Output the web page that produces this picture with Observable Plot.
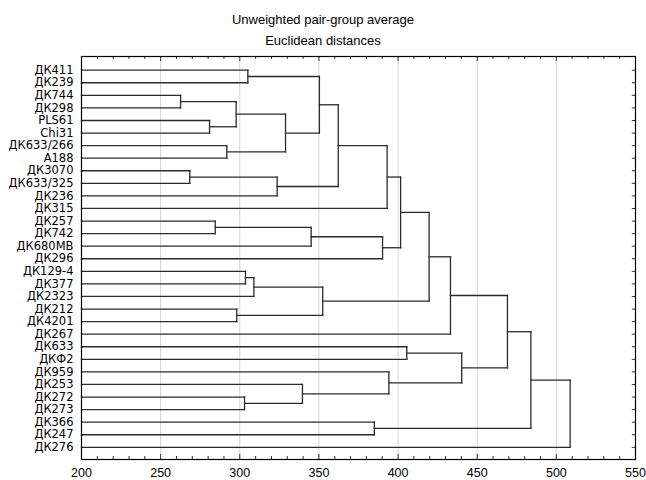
<!DOCTYPE html>
<html><head><meta charset="utf-8">
<script src="https://cdn.jsdelivr.net/npm/d3@7"></script>
<script src="https://cdn.jsdelivr.net/npm/@observablehq/plot@0.6"></script>
<style>
body{margin:0;background:#fff;}
#title{width:646px;height:50px;box-sizing:border-box;padding-top:8.5px;text-align:center;font-family:"Liberation Sans",Arial,sans-serif;font-size:13px;line-height:21px;color:#000;}
#chart svg{overflow:visible;}
</style></head><body>
<div id="title"><div>Unweighted pair-group average</div><div>Euclidean distances</div></div>
<div id="chart"></div>
<script>
const leaves = ["ДК411","ДК239","ДК744","ДК298","PLS61","Chi31","ДК633/266","A188","ДК3070","ДК633/325",
  "ДК236","ДК315","ДК257","ДК742","ДК680МВ","ДК296","ДК129-4","ДК377","ДК2323","ДК212",
  "ДК4201","ДК267","ДК633","ДКФ2","ДК959","ДК253","ДК272","ДК273","ДК366","ДК247","ДК276"];
// linkage rows: [childA, childB, linkage distance]; leaves are 0..30, row k creates node 31+k
const mergeA = [2,8,4,12,6,31,19,26,16,0,39,32,36,25,34,40,41,46,28,45,48,24,51,22,53,55,54,56,58,59];
const mergeB = [3,9,5,13,7,33,20,27,17,1,18,10,35,38,14,43,37,42,29,15,11,44,50,23,47,21,52,57,49,30];
const mergeH = [262.6,268.4,280.9,284.5,291.8,297.7,298.1,303.0,303.6,305.1,308.9,323.6,328.9,339.6,345.1,
  350.3,352.4,362.2,385.0,390.2,393.1,394.2,401.6,405.5,419.6,433.1,440.2,469.1,483.9,508.7];
const xTicks = [200,250,300,350,400,450,500,550];

const n = leaves.length;
const xMin = xTicks[0], xMax = xTicks[xTicks.length-1];
const nodeY = leaves.map((_, i) => i);
const nodeH = leaves.map(() => xMin);
const segs = [];
mergeH.forEach((h, k) => {
  const a = mergeA[k], b = mergeB[k];
  const ya = nodeY[a], yb = nodeY[b];
  segs.push({x1: nodeH[a], x2: h, y1: ya, y2: ya});
  segs.push({x1: nodeH[b], x2: h, y1: yb, y2: yb});
  segs.push({x1: h, x2: h, y1: ya, y2: yb});
  nodeY.push((ya + yb) / 2); nodeH.push(h);
});

const yDom = [-1.09, n - 1 + 0.97];
const minor = d3.range(xMin, xMax + 1, 10);
const tickLen = d => (d % 50 ? 0.24 : 0.4);

const chart = Plot.plot({
  width: 646, height: 430,
  marginLeft: 81, marginRight: 11, marginTop: 6, marginBottom: 21,
  x: {domain: [xMin, xMax]},
  y: {domain: yDom, reverse: true},
  style: {fontFamily: "DejaVu Sans", fontSize: "11.5px", color: "#000", background: "#fff"},
  marks: [
    Plot.ruleX(xTicks.slice(1, -1), {stroke: "#d6d6d6", strokeWidth: 1, strokeOpacity: 1}),
    Plot.link(segs, {x1: "x1", y1: "y1", x2: "x2", y2: "y2", stroke: "#2b2b2b", strokeWidth: 1.3, strokeLinecap: "square"}),
    Plot.ruleX(minor, {x: d => d, y1: yDom[0], y2: d => yDom[0] + tickLen(d), stroke: "#333"}),
    Plot.ruleX(minor, {x: d => d, y1: yDom[1], y2: d => yDom[1] - tickLen(d), stroke: "#333"}),
    Plot.ruleY(d3.range(n), {y: d => d, x1: xMax, x2: xMax - 2, stroke: "#333"}),
    Plot.frame({stroke: "#000", strokeWidth: 1.2}),
    Plot.axisY(d3.range(n), {tickFormat: i => leaves[i], tickSize: 0, tickPadding: 8, fontSize: 11.5, fontFamily: "DejaVu Sans", label: null}),
    Plot.axisX(xTicks, {tickSize: 0, tickPadding: 9, fontSize: 12.5, fontFamily: "Liberation Sans", label: null})
  ]
});
document.getElementById("chart").appendChild(chart);
</script>
</body></html>
